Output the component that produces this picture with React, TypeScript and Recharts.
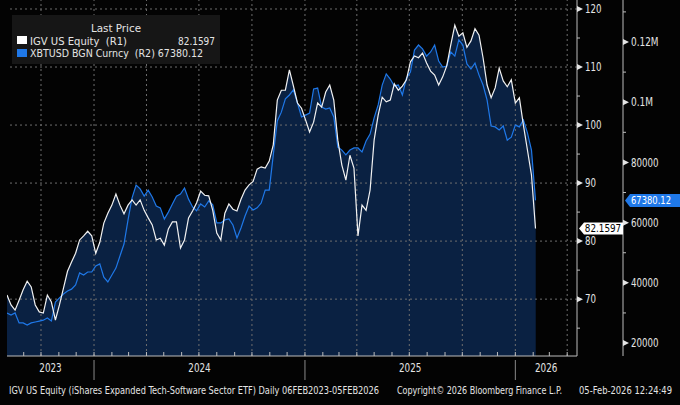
import {
  ComposedChart,
  Area,
  Line,
  XAxis,
  YAxis,
  ReferenceLine,
  ReferenceDot,
} from 'recharts'

const FONT = "'Liberation Sans Narrow', 'DejaVu Sans Condensed', 'Roboto', sans-serif"
const DAY = 86400000
const EPOCH = Date.UTC(2024, 0, 1)
const FIRST_WEEK = Date.UTC(2023, 7, 3)

const WHITE = '#f2f2f2'
const BLUE = '#1f78e8'
const FILL = '#0a2142'
const GRID = '#6e6e6e'
const TEXT = '#e4e4e4'

// weekly closes, 03-Aug-2023 .. 05-Feb-2026
const igv = [
  70.7, 69.0, 68.1, 69.8, 71.6, 73.1, 72.1, 69.0, 67.8, 67.6,
  70.7, 69.5, 66.4, 69.0, 71.9, 74.8, 76.4, 77.9, 80.2, 80.9,
  81.7, 80.9, 77.9, 79.8, 83.1, 84.8, 86.2, 88.1, 86.2, 84.7,
  86.2, 87.1, 86.2, 87.1, 85.3, 84.0, 82.8, 80.2, 80.5, 79.3,
  82.1, 83.3, 83.3, 78.8, 80.2, 84.0, 85.2, 86.6, 88.6, 87.9,
  87.8, 85.3, 81.4, 80.2, 84.8, 86.4, 85.5, 85.2, 87.2, 88.8,
  89.7, 90.3, 92.4, 92.8, 92.6, 93.8, 96.6, 104.3, 106.0, 106.0,
  109.5, 106.7, 103.8, 102.9, 100.9, 98.8, 100.5, 103.8, 103.1, 105.7,
  106.9, 104.3, 97.4, 93.1, 90.5, 94.8, 92.6, 80.9, 86.2, 85.3,
  88.8, 97.4, 101.7, 104.8, 104.0, 104.3, 107.1, 106.0, 106.7, 107.8,
  110.9, 111.9, 111.6, 112.4, 110.7, 109.3, 108.6, 106.9, 108.3, 110.2,
  113.8, 117.2, 115.3, 115.9, 113.4, 114.5, 116.6, 115.5, 111.6, 106.9,
  104.7, 106.4, 109.8, 107.6, 106.6, 107.8, 103.8, 104.7, 100.0, 95.7,
  91.4, 82.1597,
]

const xbt = [
  30000, 29300, 30000, 26700, 26700, 26000, 26700, 27000, 27300, 27600,
  28300, 27300, 33600, 35000, 36300, 37300, 37900, 39300, 43300, 42600,
  43600, 43600, 45600, 46300, 41900, 40300, 42600, 44900, 48900, 52900,
  60900, 68200, 72500, 71200, 68800, 70800, 68500, 65500, 64900, 61200,
  63500, 66200, 68800, 69500, 71500, 67800, 65200, 63900, 66200, 65200,
  67200, 65900, 59900, 59900, 60900, 61200, 59200, 54900, 58200, 62200,
  65500, 64200, 64900, 66500, 70800, 70800, 82500, 93800, 96700, 101100,
  102400, 104100, 99700, 95100, 95700, 96400, 104400, 104700, 98400, 97700,
  98100, 95100, 85100, 84100, 82500, 84100, 84800, 84800, 83500, 87100,
  89400, 94800, 99100, 105700, 109400, 107700, 105400, 105700, 102400, 108000,
  110000, 117300, 119000, 117700, 115300, 116700, 119000, 113700, 111700, 112000,
  116700, 115300, 120700, 119000, 112700, 111000, 113000, 109000, 105700, 100700,
  92100, 91800, 90800, 92100, 87400, 88400, 92400, 91800, 94100, 89800,
  84100, 67380.12,
]

const YEAR_LABELS = ['2023', '2024', '2025', '2026']
const IGV_TICKS = [65, 70, 75, 80, 85, 90, 95, 100, 105, 110, 115, 120]
const XBT_TICKS = [20000, 30000, 40000, 50000, 60000, 70000, 80000, 90000, 100000, 110000, 120000, 130000]

const X_DOMAIN = [-151, 838]
const IGV_DOMAIN = [60.2, 121.55]
const XBT_DOMAIN = [15700, 133950]

const data = igv.map((v, i) => ({
  t: (FIRST_WEEK - EPOCH) / DAY + i * 7,
  igv: v,
  xbt: xbt[i],
}))
const last = data[data.length - 1]

// month starts inside the x domain, in days from 1-Jan-2024
const monthTicks: number[] = []
const quarterLines: number[] = []
for (let y = 2023; y <= 2026; y++) {
  for (let m = 0; m < 12; m++) {
    const t = (Date.UTC(y, m, 1) - EPOCH) / DAY
    if (t < X_DOMAIN[0] || t > X_DOMAIN[1]) continue
    monthTicks.push(t)
    if (m % 3 === 0) quarterLines.push(t)
  }
}
const yearBreaks = [2024, 2025, 2026].map(y => (Date.UTC(y, 0, 1) - EPOCH) / DAY)
const segs = [X_DOMAIN[0], ...yearBreaks, X_DOMAIN[1]]
const yearCenters = YEAR_LABELS.map((_, i) => (segs[i] + segs[i + 1]) / 2)
const xTicks = [...monthTicks, ...yearCenters].sort((a, b) => a - b)

const fmtXbt = (v: number) => (v >= 100000 ? `${v / 1000000}M` : String(v))

// narrow Bloomberg-like text: squeeze to about 5.3px per character
const narrow = (s: string, per = 5.3) => ({
  textLength: s.length * per,
  lengthAdjust: 'spacingAndGlyphs' as const,
})

function XTick({ x, y, payload }: any) {
  const v = payload.value
  const li = yearCenters.indexOf(v)
  if (li >= 0) {
    return (
      <text x={x} y={y + 16} textAnchor="middle" fill={TEXT} fontSize={12} fontFamily={FONT} {...narrow(YEAR_LABELS[li], 5.6)}>
        {YEAR_LABELS[li]}
      </text>
    )
  }
  return (
    <g>
      <line x1={x} x2={x} y1={y - 4} y2={y} stroke="#bdbdbd" />
      {yearBreaks.includes(v) && <line x1={x} x2={x} y1={y + 4} y2={y + 24} stroke="#8a8a8a" />}
    </g>
  )
}

function makeYTick(major: (v: number) => boolean, fmt: (v: number) => string) {
  return ({ x, y, payload }: any) => {
    const v = payload.value
    if (!major(v)) return <line x1={x} x2={x + 3} y1={y} y2={y} stroke="#bdbdbd" />
    const s = fmt(v)
    return (
      <g>
        <path d={`M${x} ${y - 3}L${x + 6} ${y}L${x} ${y + 3}Z`} fill={TEXT} />
        <text x={x + 8} y={y} dy="0.35em" fill={TEXT} fontSize={12} fontFamily={FONT} {...narrow(s, 5.5)}>
          {s}
        </text>
      </g>
    )
  }
}

const IgvTick = makeYTick(v => v % 10 === 0, v => String(v))
const XbtTick = makeYTick(v => v % 20000 === 0, fmtXbt)

function IgvTag({ cy }: any) {
  const s = String(last.igv)
  return (
    <g>
      <path d={`M579 ${cy}L584 ${cy - 6}L623 ${cy - 6}L623 ${cy + 6}L584 ${cy + 6}Z`} fill="#ffffff" />
      <text x={603} y={cy} dy="0.35em" textAnchor="middle" fill="#000" fontSize={11} fontFamily={FONT} {...narrow(s, 5.2)}>
        {s}
      </text>
    </g>
  )
}

function XbtTag({ cy }: any) {
  const s = String(last.xbt)
  return (
    <g>
      <path d={`M625 ${cy}L630 ${cy - 6.5}L680 ${cy - 6.5}L680 ${cy + 6.5}L630 ${cy + 6.5}Z`} fill={BLUE} />
      <text x={651} y={cy} dy="0.35em" textAnchor="middle" fill="#fff" fontSize={11} fontFamily={FONT} {...narrow(s, 5.0)}>
        {s}
      </text>
    </g>
  )
}

export default function App() {
  const row2 = `XBTUSD BGN Curncy\u00a0\u00a0(R2) ${last.xbt}`
  return (
    <div style={{ position: 'relative', width: 680, height: 405, background: '#030303' }}>
      <style>{'body{margin:0;background:#000}'}</style>
      <ComposedChart
        width={680}
        height={405}
        data={data}
        margin={{ top: 0, right: 0, bottom: 0, left: 7 }}
      >
        <XAxis
          dataKey="t"
          type="number"
          domain={X_DOMAIN}
          ticks={xTicks}
          interval={0}
          height={49}
          tickSize={0}
          tickMargin={0}
          tickLine={false}
          axisLine={{ stroke: '#bdbdbd' }}
          tick={(p: any) => <XTick {...p} />}
          allowDataOverflow
        />
        <YAxis
          yAxisId="igv"
          orientation="right"
          type="number"
          domain={IGV_DOMAIN}
          ticks={IGV_TICKS}
          interval={0}
          width={46}
          tickSize={0}
          tickMargin={0}
          tickLine={false}
          axisLine={{ stroke: '#bdbdbd' }}
          tick={(p: any) => <IgvTick {...p} />}
          allowDataOverflow
        />
        <YAxis
          yAxisId="xbt"
          orientation="right"
          type="number"
          domain={XBT_DOMAIN}
          ticks={XBT_TICKS}
          interval={0}
          width={57}
          tickSize={0}
          tickMargin={0}
          tickLine={false}
          axisLine={{ stroke: '#bdbdbd' }}
          tick={(p: any) => <XbtTick {...p} />}
          allowDataOverflow
        />
        <Area
          yAxisId="xbt"
          dataKey="xbt"
          type="linear"
          stroke="none"
          fill={FILL}
          fillOpacity={1}
          isAnimationActive={false}
        />
        <Area
          yAxisId="igv"
          dataKey="igv"
          type="linear"
          stroke="none"
          fill={FILL}
          fillOpacity={1}
          isAnimationActive={false}
        />
        {quarterLines.map(t => (
          <ReferenceLine key={`q${t}`} x={t} yAxisId="igv" stroke={GRID} strokeDasharray="2 3" />
        ))}
        {[70, 80, 90, 100, 110, 120].map(v => (
          <ReferenceLine key={`h${v}`} y={v} yAxisId="igv" stroke={GRID} strokeDasharray="2 3" />
        ))}
        <Line
          yAxisId="xbt"
          dataKey="xbt"
          type="linear"
          stroke={BLUE}
          strokeWidth={1.2}
          dot={false}
          isAnimationActive={false}
        />
        <Line
          yAxisId="igv"
          dataKey="igv"
          type="linear"
          stroke={WHITE}
          strokeWidth={1.2}
          dot={false}
          isAnimationActive={false}
        />
        <ReferenceDot
          x={last.t}
          y={last.igv}
          yAxisId="igv"
          r={0}
          ifOverflow="visible"
          shape={(p: any) => <IgvTag {...p} />}
        />
        <ReferenceDot
          x={last.t}
          y={last.xbt}
          yAxisId="xbt"
          r={0}
          ifOverflow="visible"
          shape={(p: any) => <XbtTag {...p} />}
        />
      </ComposedChart>

      <svg
        width={680}
        height={405}
        style={{ position: 'absolute', left: 0, top: 0, pointerEvents: 'none' }}
        fontFamily={FONT}
      >
        <rect x={12} y={15} width={208} height={49} fill="#161616" />
        <text x={116} y={32} textAnchor="middle" fill={TEXT} fontSize={11} textLength={50} lengthAdjust="spacingAndGlyphs">
          Last Price
        </text>
        <rect x={17} y={36} width={10} height={8} fill="#ffffff" />
        <text x={30} y={45} fill={TEXT} fontSize={11} textLength={97} lengthAdjust="spacingAndGlyphs">
          {'IGV US Equity\u00a0\u00a0(R1)'}
        </text>
        <text x={215} y={45} textAnchor="end" fill={TEXT} fontSize={11} textLength={37} lengthAdjust="spacingAndGlyphs">
          {String(last.igv)}
        </text>
        <rect x={17} y={49} width={10} height={8} fill={BLUE} />
        <text x={30} y={57} fill={TEXT} fontSize={11} textLength={173} lengthAdjust="spacingAndGlyphs">
          {row2}
        </text>

        <text x={9} y={394} fill={TEXT} fontSize={10} textLength={370} lengthAdjust="spacingAndGlyphs">
          IGV US Equity (iShares Expanded Tech-Software Sector ETF) Daily 06FEB2023-05FEB2026
        </text>
        <text x={397} y={394} fill={TEXT} fontSize={10} textLength={165} lengthAdjust="spacingAndGlyphs">
          Copyright© 2026 Bloomberg Finance L.P.
        </text>
        <text x={579} y={394} fill={TEXT} fontSize={10} textLength={93} lengthAdjust="spacingAndGlyphs">
          05-Feb-2026 12:24:49
        </text>
      </svg>
    </div>
  )
}
